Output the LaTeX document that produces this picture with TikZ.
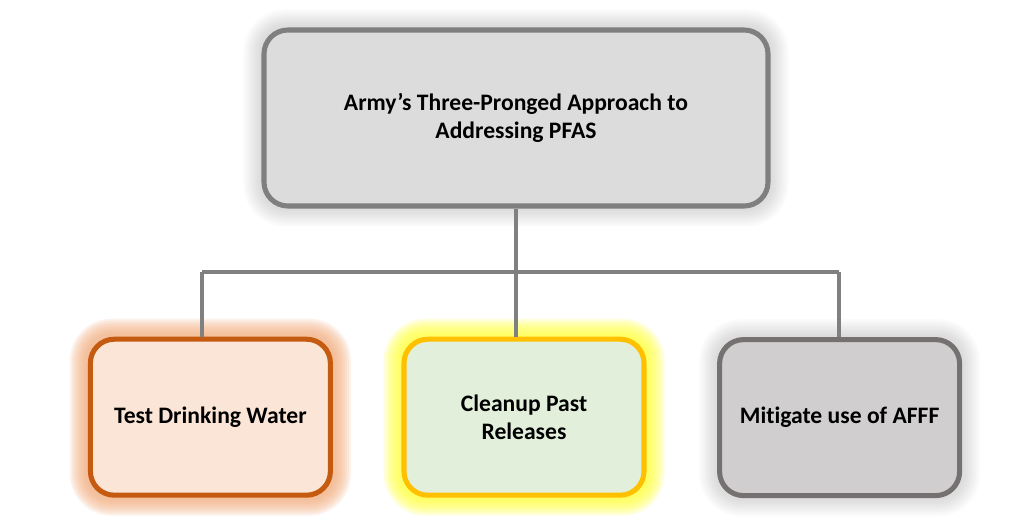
\documentclass[tikz,border=0pt]{standalone}
\usepackage{fontspec}
\setmainfont[Ligatures=NoCommon]{Carlito}
\usetikzlibrary{calc,backgrounds}

\tikzset{
  prong/.style={draw, line width=3.6pt, rounded corners=17pt, align=center,
    font=\fontsize{16.8}{19.9}\selectfont\bfseries, inner sep=0pt},
  link/.style={draw=linkG, line width=2.6pt}
}

\begin{document}
\begin{tikzpicture}
\colorlet{linkG}{black!50}
\definecolor{rootF}{HTML}{DCDCDC}
\definecolor{rootD}{HTML}{7F7F7F}
\definecolor{testF}{HTML}{FBE5D6}
\definecolor{testD}{HTML}{C55A11}
\definecolor{testH}{HTML}{F4B183}
\definecolor{cleanF}{HTML}{E2EFDA}
\definecolor{cleanD}{HTML}{FFC000}
\definecolor{cleanH}{HTML}{FFFF40}
\definecolor{afffF}{HTML}{D0CECE}
\definecolor{afffD}{HTML}{767171}
% ---- canvas ----
\useasboundingbox (0,0) rectangle (25.6,-13.125);
% ---- boxes ----
\node[prong, fill=rootF, draw=rootD, minimum width=12.6cm, minimum height=4.4cm]
  (root) at (12.9,-2.95) {Army’s Three-Pronged Approach to\\Addressing PFAS};
\node[prong, fill=testF, draw=testD, minimum width=6.0cm, minimum height=3.9cm]
  (test) at (5.26,-10.43) {Test Drinking Water};
\node[prong, fill=cleanF, draw=cleanD, minimum width=6.0cm, minimum height=3.9cm]
  (clean) at (13.1,-10.43) {Cleanup Past\\Releases};
\node[prong, fill=afffF, draw=afffD, minimum width=6.0cm, minimum height=3.9cm]
  (afff) at (20.99,-10.44) {Mitigate use of AFFF};
% ---- glows behind the boxes ----
\begin{pgfonlayer}{background}
\fill[white] (0,0) rectangle (25.6,-13.125);
\foreach \n/\c/\o in {root/black!40/0.04, test/testH/0.16, clean/cleanH/0.16, afff/black!40/0.04}
  \foreach \r in {0.1,0.2,...,0.9}
    \draw[\c, opacity=\o, line width=\r cm, line join=round, rounded corners=17pt]
      (\n.south west) rectangle (\n.north east);
\end{pgfonlayer}
% ---- tree connectors ----
\coordinate (busL) at (5.05,-6.8);
\coordinate (busR) at (20.975,-6.8);
\draw[link] (root.south) -- (root.south |- busL);
\draw[link] (busL) -- (busR);
\draw[link] (busL) -- (busL |- test.north);
\draw[link] (root.south |- busL) -- (root.south |- clean.north);
\draw[link] (busR) -- (busR |- afff.north);
\end{tikzpicture}
\end{document}
